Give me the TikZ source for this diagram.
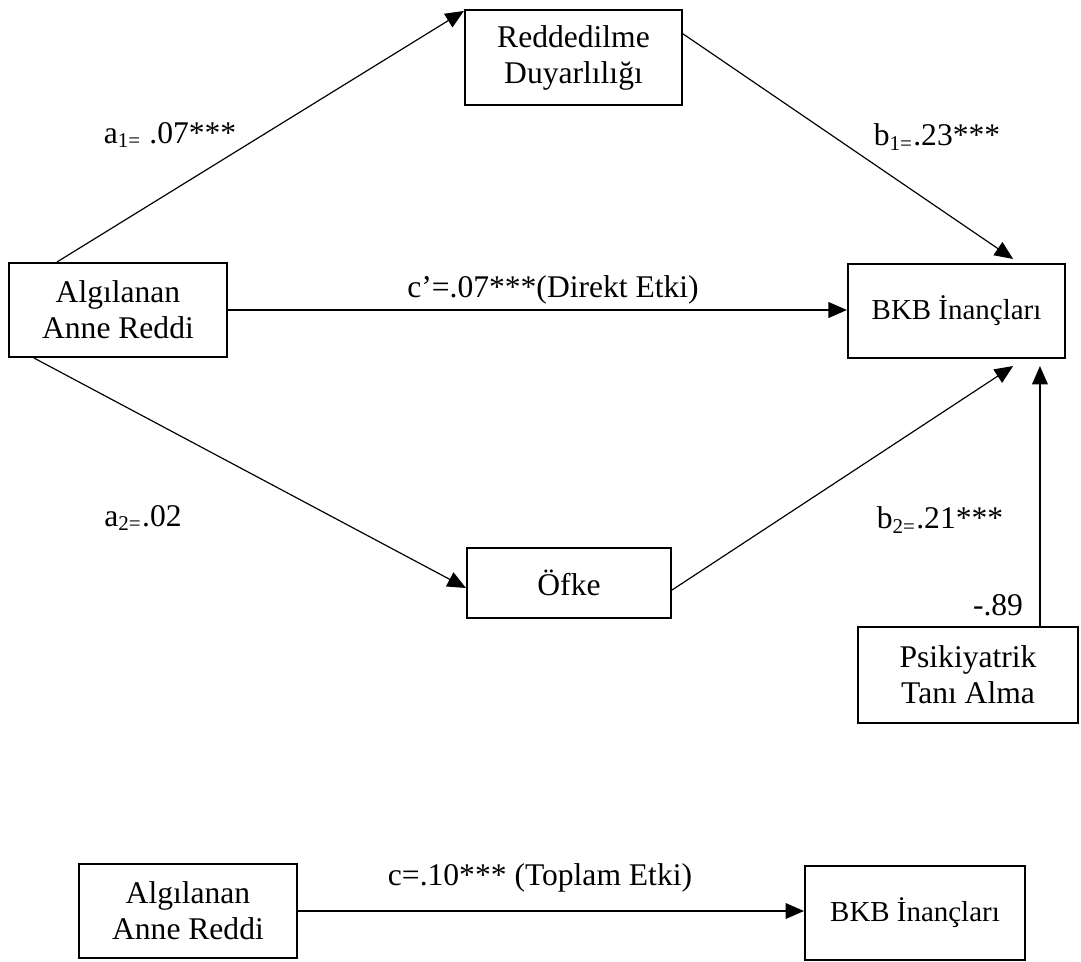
\documentclass[tikz,border=0pt]{standalone}
\usepackage{fontspec}
\setmainfont{Liberation Serif}
\usepackage{tikz}
\usetikzlibrary{shapes,arrows.meta,positioning,calc}

\tikzset{
  box/.style={draw, line width=0.8pt, align=center, inner sep=0pt, font=\fontsize{12}{13.7}\selectfont},
  link/.style={-{Triangle[length=7pt,width=6pt]}, line width=0.45pt},
  lbl/.style={inner sep=0pt, font=\fontsize{12}{13.7}\selectfont}
}

\begin{document}
\begin{tikzpicture}[x=0.38pt,y=-0.38pt]
\useasboundingbox (0,0) rectangle (1081,961);

%Model
\node[box, minimum width=82.8pt, minimum height=35.7pt](anne) at (118,310) {Algılanan\\Anne Reddi};
\node[box, minimum width=82.5pt, minimum height=36.1pt](red) at (573.5,57.5) {Reddedilme\\Duyarlılığı};
\node[box, minimum width=77.5pt, minimum height=26.6pt](ofke) at (569,583) {Öfke};
\node[box, minimum width=82.5pt, minimum height=35.7pt, font=\fontsize{11}{13}\selectfont](bkb) at (956.5,311) {BKB İnançları};
\node[box, minimum width=83.6pt, minimum height=36.5pt](psik) at (968,675) {Psikiyatrik\\Tanı Alma};

%Paths
\draw[link] ($(anne.north west)+(49,0)$) -- ($(red.north west)+(0,2)$);
\draw[link] ($(red.north east)+(0,25)$) -- ($(bkb.north east)+(-53,-4)$);
\draw[link] (anne.east) -- (anne.east -| bkb.west);
\draw[link] ($(anne.south west)+(26,0)$) -- ($(ofke.west)+(0,5)$);
\draw[link] ($(ofke.east)+(0,7)$) -- ($(bkb.south east)+(-53,7)$);
\coordinate(psiktop) at ($(psik.north west)+(183,0)$);
\draw[link] (psiktop) -- ($(psiktop |- bkb.south)+(0,7)$);

\node[lbl](a1) at (170,135) {a\textsubscript{1=} .07***};
\node[lbl](b1) at (937,137) {b\textsubscript{1=}.23***};
\node[lbl](c1) at (553,290) {c’=.07***(Direkt Etki)};
\node[lbl](a2) at (143,518) {a\textsubscript{2=}.02};
\node[lbl](b2) at (940,520) {b\textsubscript{2=}.21***};
\node[lbl](psikv) at (998,605) {-.89};

%Total
\node[box, minimum width=82.8pt, minimum height=35.7pt](anneT) at (188,911) {Algılanan\\Anne Reddi};
\node[box, minimum width=83.6pt, minimum height=35.7pt, font=\fontsize{11}{13}\selectfont](bkbT) at (915,913) {BKB İnançları};
\draw[link] (anneT.east) -- (anneT.east -| bkbT.west);
\node[lbl](cT) at (540,878) {c=.10*** (Toplam Etki)};

\end{tikzpicture}
\end{document}
